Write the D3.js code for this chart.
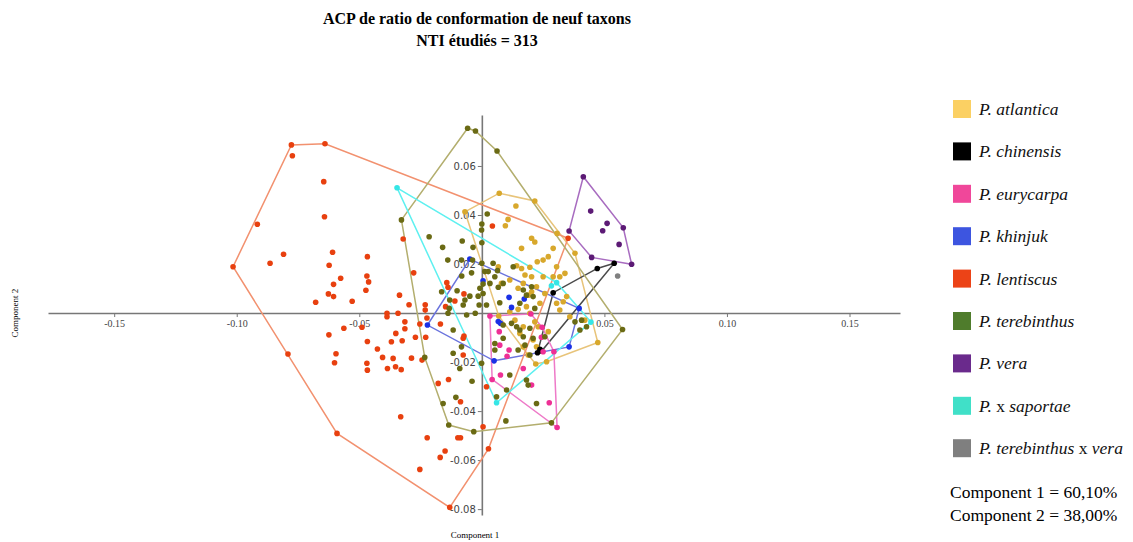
<!DOCTYPE html>
<html>
<head>
<meta charset="utf-8">
<script src="https://cdn.jsdelivr.net/npm/d3@7"></script>
<style>
  body { margin: 0; background: #fff; }
  svg { display: block; }
  .tick text { fill: #444; }
</style>
</head>
<body>
<svg id="acp" width="1133" height="542"></svg>
<script>
// taxa, legend colours
var taxa = ["P. atlantica", "P. chinensis", "P. eurycarpa", "P. khinjuk", "P. lentiscus",
            "P. terebinthus", "P. vera", "P. x saportae", "P. terebinthus x vera"];
var legendColors = ["#fbd063", "#000000", "#f0479a", "#3d55e0", "#ec4317",
                    "#4f7c2c", "#6a2a8c", "#40e0c8", "#7f7f7f"];
var pointColors  = ["#d8a82c", "#000000", "#ee2f95", "#1a30e6", "#e8400f",
                    "#6a6a14", "#5c1a75", "#35e6e6", "#808080"];
var hullColors   = ["#e8c47a", "#4a4a4a", "#ee7ac8", "#6a73dd", "#f2916f",
                    "#b3ae6e", "#a86cc0", "#5ef0f0", "#999999"];

var xTicks = [-0.15, -0.10, -0.05, 0.05, 0.10, 0.15];
var yTicks = [0.06, 0.04, 0.02, -0.02, -0.04, -0.06, -0.08];

// component 1, component 2 scores
var atlantica = [[0.0071,0.0489],[0.0216,0.0457],[-0.0069,0.0413],[0.0139,0.0437],[0.0107,0.0382],[0.0096,0.0356],
  [0.0203,0.0305],[0.0216,0.0290],[0.0162,0.0264],[0.0291,0.0264],[0.0271,0.0230],[0.0250,0.0216],[0.0307,0.0325],
  [0.0380,0.0244],[0.0142,0.0193],[0.0162,0.0182],[0.0196,0.0187],[0.0226,0.0209],[0.0203,0.0148],[0.0250,0.0148],
  [0.0339,0.0162],[0.0305,0.0189],[0.0318,0.0148],[0.0114,0.0135],[0.0176,0.0155],[0.0169,0.0121],[0.0148,0.0101],
  [0.0223,0.0107],[0.0203,0.0087],[0.0257,0.0080],[0.0346,0.0067],[0.0237,0.0040],[0.0305,0.0040],[0.0332,0.0046],
  [0.0189,0.0073],[0.0148,0.0015],[0.0182,0.0026],[0.0196,-0.0001],[0.0318,0.0012],[0.0359,-0.0015],[0.0420,-0.0029],
  [0.0473,-0.0120],[0.0114,0.0005],[0.0135,-0.0029],[0.0169,-0.0056],[0.0230,-0.0056],[0.0155,-0.0083],[0.0223,-0.0138],
  [0.0216,-0.0036],[0.0264,-0.0199],[0.0220,-0.0208],[0.0189,-0.0171],[0.0209,-0.0110],[0.0271,-0.0076],[0.0169,-0.0138],
  [0.0069,-0.0012],[0.0080,0.0121],[0.0067,0.0189],[0.0291,0.0148]];
var chinensis = [[0.0291,0.0083],[0.0471,0.0182],[0.0540,0.0203],[0.0237,-0.0148],[0.0244,-0.0155],[0.0227,-0.0162]];
var eurycarpa = [[0.0033,-0.0012],[0.0042,-0.0271],[0.0307,-0.0467],[0.0294,-0.0158],[0.0246,-0.0058],[0.0200,-0.0004],
  [0.0071,-0.0076],[0.0076,-0.0253],[0.0203,-0.0294],[0.0169,-0.0226],[0.0275,-0.0366],[0.0250,-0.0158],[0.0111,-0.0151],
  [0.0073,-0.0131],[0.0103,-0.0176],[0.0243,-0.0099]];
var khinjuk = [[-0.0049,0.0220],[-0.0222,-0.0049],[0.0050,-0.0195],[0.0356,-0.0138],[0.0397,0.0019],[0.0005,0.0132],
  [0.0111,0.0064],[0.0173,0.0057],[0.0121,0.0023],[0.0067,-0.0035],[0.0076,-0.0042]];
var lentiscus = [[-0.0777,0.0686],[-0.0640,0.0691],[-0.1015,0.0189],[-0.0791,-0.0167],[-0.0591,-0.0491],[-0.0131,-0.0793],
  [0.0352,0.0305],[-0.0773,0.0642],[-0.0645,0.0536],[-0.0642,0.0393],[-0.0916,0.0362],[-0.0809,0.0240],[-0.0864,0.0203],
  [-0.0609,0.0248],[-0.0623,0.0195],[-0.0467,0.0230],[-0.0576,0.0142],[-0.0605,0.0117],[-0.0469,0.0151],[-0.0462,0.0127],
  [-0.0473,0.0093],[-0.0626,0.0078],[-0.0605,0.0067],[-0.0678,0.0044],[-0.0529,0.0048],[-0.0321,0.0302],[-0.0278,0.0164],
  [-0.0336,0.0073],[-0.0297,0.0034],[-0.0231,0.0034],[-0.0231,0.0012],[-0.0073,0.0078],[-0.0387,-0.0001],[-0.0387,-0.0015],
  [-0.0342,-0.0001],[-0.0314,-0.0036],[-0.0253,-0.0045],[-0.0224,-0.0020],[-0.0624,-0.0089],[-0.0563,-0.0062],
  [-0.0489,-0.0058],[-0.0467,-0.0116],[-0.0426,-0.0147],[-0.0369,-0.0117],[-0.0325,-0.0113],[-0.0351,-0.0083],
  [-0.0314,-0.0064],[-0.0271,-0.0099],[-0.0229,-0.0099],[-0.0287,-0.0184],[-0.0244,-0.0192],[-0.0595,-0.0166],
  [-0.0601,-0.0203],[-0.0469,-0.0205],[-0.0467,-0.0233],[-0.0405,-0.0181],[-0.0385,-0.0226],[-0.0362,-0.0185],
  [-0.0352,-0.0219],[-0.0329,-0.0231],[-0.0178,-0.0287],[-0.0136,-0.0271],[-0.0087,-0.0362],[-0.0076,-0.0171],
  [-0.0331,-0.0423],[-0.0223,-0.0509],[-0.0098,-0.0509],[-0.0087,-0.0509],[-0.0150,-0.0563],[-0.0170,-0.0589],
  [-0.0253,-0.0638],[0.0005,-0.0464],[0.0027,-0.0554],[0.0019,-0.0301],[0.0043,0.0355],[-0.0076,-0.0103],
  [-0.0138,0.0105],[-0.0110,0.0049],[-0.0148,0.0026],[-0.0169,-0.0045],[-0.0073,-0.0094],[-0.0143,0.0124]];
var terebinthus = [[-0.0058,0.0754],[-0.0026,0.0743],[0.0062,0.0661],[-0.0328,0.0380],[-0.0233,-0.0181],[-0.0135,-0.0457],
  [-0.0033,-0.0484],[0.0284,-0.0448],[0.0574,-0.0067],[-0.0215,0.0311],[-0.0160,0.0268],[-0.0080,0.0294],[-0.0139,0.0216],
  [-0.0083,0.0216],[0.0005,0.0118],[0.0005,0.0080],[-0.0027,-0.0001],[-0.0133,0.0019],[0.0022,0.0404],[0.0000,0.0363],
  [0.0000,0.0287],[0.0000,0.0203],[0.0046,0.0203],[0.0026,0.0169],[0.0064,0.0173],[-0.0082,0.0151],[-0.0042,0.0164],
  [-0.0038,0.0216],[0.0053,0.0148],[-0.0164,0.0087],[-0.0101,0.0091],[-0.0049,0.0069],[-0.0008,0.0101],[-0.0011,0.0033],
  [-0.0076,0.0033],[-0.0131,0.0053],[0.0033,0.0121],[0.0067,0.0105],[0.0128,0.0189],[0.0203,0.0107],[0.0209,0.0067],
  [0.0169,0.0094],[0.0012,0.0169],[-0.0069,0.0053],[0.0073,0.0042],[0.0155,0.0040],[0.0182,0.0073],[0.0216,0.0019],
  [-0.0117,-0.0069],[-0.0083,-0.0138],[-0.0117,-0.0164],[0.0087,-0.0049],[0.0142,-0.0056],[0.0169,-0.0097],[0.0209,-0.0103],
  [0.0148,-0.0151],[0.0176,-0.0131],[0.0196,-0.0171],[-0.0001,-0.0205],[0.0114,-0.0253],[0.0182,-0.0273],[0.0189,-0.0294],
  [0.0223,-0.0369],[0.0101,-0.0314],[0.0098,-0.0440],[0.0407,-0.0029],[0.0427,-0.0056],[0.0400,-0.0069],[0.0380,-0.0036],
  [0.0257,-0.0097],[0.0087,0.0121],[-0.0015,0.0069],[0.0019,0.0033],[-0.0138,-0.0001],[0.0121,-0.0042],[0.0155,-0.0069],
  [0.0196,-0.0062],[0.0053,-0.0124],[0.0087,-0.0103],[0.0053,-0.0151],[-0.0062,-0.0008],[-0.0090,-0.0226],[-0.0040,-0.0278],
  [-0.0106,-0.0344],[-0.0158,-0.0369],[0.0060,-0.0342],[-0.0036,0.0268],[-0.0001,0.0339]];
var vera = [[0.0414,0.0556],[0.0444,0.0416],[0.0511,0.0366],[0.0493,0.0336],[0.0577,0.0348],[0.0356,0.0335],
  [0.0560,0.0280],[0.0448,0.0227],[0.0611,0.0199]];
var saportae = [[-0.0346,0.0511],[0.0284,0.0111],[0.0305,0.0124],[0.0445,-0.0037],[0.0060,-0.0366]];
var terebinthusVera = [[0.0554,0.0151]];

var groups = [atlantica, chinensis, eurycarpa, khinjuk, lentiscus, terebinthus, vera, saportae, terebinthusVera];

var svg = d3.select("#acp");

var x = d3.scaleLinear().domain([-0.177, 0.1706]).range([48, 900]);
var y = d3.scaleLinear().domain([-0.0824, 0.0808]).range([515, 115]);

// title
svg.append("text")
  .attr("x", 477).attr("y", 24)
  .attr("text-anchor", "middle")
  .style("font-family", "'Liberation Serif', 'Times New Roman', serif")
  .style("font-size", "16px").style("font-weight", "bold")
  .text("ACP de ratio de conformation de neuf taxons");
svg.append("text")
  .attr("x", 477).attr("y", 46)
  .attr("text-anchor", "middle")
  .style("font-family", "'Liberation Serif', 'Times New Roman', serif")
  .style("font-size", "16px").style("font-weight", "bold")
  .text("NTI étudiés = 313");

// axes through the origin
var xAxis = svg.append("g")
  .attr("transform", "translate(0," + y(0) + ")")
  .call(d3.axisBottom(x).tickValues(xTicks).tickSize(4).tickSizeOuter(0)
    .tickFormat(d => d.toFixed(2)));
xAxis.selectAll("text")
  .style("font-family", "'Liberation Serif', serif").style("font-size", "10px");

var yAxis = svg.append("g")
  .attr("transform", "translate(" + x(0) + ",0)")
  .call(d3.axisLeft(y).tickValues(yTicks).tickSize(4).tickPadding(2).tickSizeOuter(0)
    .tickFormat(d => d.toFixed(2)));
yAxis.selectAll("text")
  .style("font-family", "'DejaVu Sans', sans-serif").style("font-size", "10px");

svg.selectAll(".domain").style("stroke", "#777").style("stroke-width", 1.6);
svg.selectAll(".tick line").style("stroke", "#777");

// axis titles
svg.append("text")
  .attr("transform", "translate(18," + y(0) + ") rotate(-90)")
  .attr("text-anchor", "middle")
  .style("font-family", "'Liberation Serif', serif").style("font-size", "9px")
  .text("Component 2");
svg.append("text")
  .attr("x", 475).attr("y", 538)
  .attr("text-anchor", "middle")
  .style("font-family", "'Liberation Serif', serif").style("font-size", "9px")
  .text("Component 1");

// convex hulls
groups.forEach(function (pts, i) {
  if (pts.length < 3) return;
  var hull = d3.polygonHull(pts.map(p => [x(p[0]), y(p[1])]));
  svg.append("path")
    .attr("d", "M" + hull.join("L") + "Z")
    .attr("fill", "none")
    .attr("stroke", hullColors[i])
    .attr("stroke-width", 1.5);
});

// points
groups.forEach(function (pts, i) {
  svg.append("g").selectAll("circle")
    .data(pts)
    .enter().append("circle")
    .attr("cx", d => x(d[0]))
    .attr("cy", d => y(d[1]))
    .attr("r", 2.8)
    .attr("fill", pointColors[i]);
});

// legend
var legend = svg.append("g");
taxa.forEach(function (name, i) {
  var ly = 100 + i * 42.4;
  legend.append("rect")
    .attr("x", 953).attr("y", ly)
    .attr("width", 18).attr("height", 18)
    .attr("fill", legendColors[i]);
  var t = legend.append("text")
    .attr("x", 979).attr("y", ly + 15)
    .style("font-family", "'Liberation Serif', 'Times New Roman', serif")
    .style("font-size", "17.5px")
    .style("fill", "#111");
  var parts = name.split(" x ");
  parts.forEach(function (p, j) {
    if (j > 0) t.append("tspan").style("font-style", "normal").text(" x ");
    t.append("tspan").style("font-style", "italic").text(p);
  });
});

svg.append("text")
  .attr("x", 950).attr("y", 498)
  .style("font-family", "'Liberation Serif', 'Times New Roman', serif")
  .style("font-size", "17.5px")
  .text("Component 1 = 60,10%");
svg.append("text")
  .attr("x", 950).attr("y", 521)
  .style("font-family", "'Liberation Serif', 'Times New Roman', serif")
  .style("font-size", "17.5px")
  .text("Component 2 = 38,00%");
</script>
</body>
</html>
